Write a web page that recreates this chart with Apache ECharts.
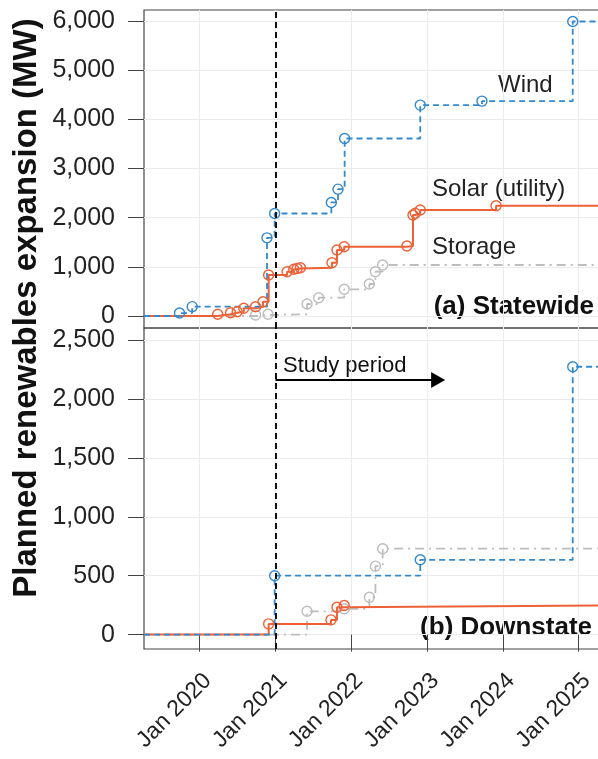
<!DOCTYPE html>
<html>
<head>
<meta charset="utf-8">
<script src="https://cdn.jsdelivr.net/npm/echarts@6/dist/echarts.min.js"></script>
<style>
html, body { margin: 0; padding: 0; background: #fff; }
#chart { width: 598px; height: 759px; }
</style>
</head>
<body>
<div id="chart"></div>
<script>
// time range shown in both panels
var xStart = '2019-04-08';
var xEnd = '2025-04-23';
var studyStart = '2021-01-01';
var studyArrowEnd = '2023-02-23';
var studyArrowLevel = 2160;

var yearTicks = [2020, 2021, 2022, 2023, 2024, 2025];
var stateTicks = [0, 1000, 2000, 3000, 4000, 5000, 6000];
var downTicks = [0, 500, 1000, 1500, 2000, 2500];

// (a) Statewide, cumulative MW
var stateWind = [
    ['2019-09-26', 60], ['2019-11-26', 190], ['2020-11-21', 1590], ['2020-12-28', 2085],
    ['2021-09-27', 2310], ['2021-10-29', 2580], ['2021-11-30', 3610], ['2022-11-29', 4290],
    ['2023-09-22', 4370], ['2024-12-03', 5990]
];
var stateSolar = [
    ['2020-03-28', 35], ['2020-05-29', 67], ['2020-06-30', 87], ['2020-08-01', 157],
    ['2020-09-27', 189], ['2020-11-02', 291], ['2020-11-29', 834], ['2021-02-26', 901],
    ['2021-03-30', 950], ['2021-04-15', 966], ['2021-05-01', 982], ['2021-09-30', 1084],
    ['2021-10-24', 1342], ['2021-11-28', 1409], ['2022-09-26', 1424], ['2022-10-25', 2054],
    ['2022-11-05', 2089], ['2022-11-29', 2156], ['2023-11-29', 2243]
];
var stateStorage = [
    ['2020-09-27', 20], ['2020-11-26', 35], ['2021-06-02', 244], ['2021-07-28', 372],
    ['2021-11-28', 543], ['2022-03-29', 651], ['2022-04-27', 901], ['2022-06-01', 1037]
];

// (b) Downstate, cumulative MW
var downWind = [['2020-12-28', 500], ['2022-11-29', 635], ['2024-12-03', 2273]];
var downSolar = [['2020-11-29', 91], ['2021-09-25', 125], ['2021-10-24', 232], ['2021-11-28', 247]];
var downStorage = [
    ['2021-06-02', 198], ['2021-11-28', 219], ['2022-03-29', 317], ['2022-04-27', 581], ['2022-06-01', 729]
];

var BLUE = '#3489cc';
var ORANGE = '#ee6136';
var GREY = '#bdbdbd';
var FONT = 'Liberation Sans, Arial, Helvetica, sans-serif';

// date string -> decimal year
function yr(d) {
    var p = d.split('-');
    var y = +p[0];
    var t0 = Date.UTC(y, 0, 1), t1 = Date.UTC(y + 1, 0, 1);
    return y + (Date.UTC(y, +p[1] - 1, +p[2]) - t0) / (t1 - t0);
}

// pad with a start at 0 and an end at the last level so the steps run edge to edge
function stepData(points) {
    var out = [{ value: [yr(xStart), 0], symbol: 'none' }];
    points.forEach(function (p) { out.push({ value: [yr(p[0]), p[1]] }); });
    out.push({ value: [yr(xEnd), points[points.length - 1][1]], symbol: 'none' });
    return out;
}

function stepSeries(name, points, g, color, type, width) {
    return {
        name: name,
        type: 'line',
        step: 'end',
        xAxisIndex: g,
        yAxisIndex: g,
        data: stepData(points),
        symbol: 'circle',
        symbolSize: 10,
        itemStyle: { color: 'rgba(255,255,255,0)', borderColor: color, borderWidth: 1.4 },
        lineStyle: { color: color, width: width, type: type },
        emphasis: { disabled: true },
        animation: false
    };
}

function xAxis(g, showLabels) {
    return {
        type: 'value',
        gridIndex: g,
        min: yr(xStart),
        max: yr(xEnd),
        splitNumber: 6,
        axisLine: { show: false },
        axisTick: { show: showLabels, length: 17, customValues: yearTicks, lineStyle: { color: '#444' } },
        axisLabel: {
            show: showLabels,
            customValues: yearTicks,
            rotate: 45,
            margin: 20,
            verticalAlign: 'top',
            fontSize: 23,
            fontFamily: FONT,
            color: '#222',
            formatter: function (v) { return 'Jan ' + Math.round(v); }
        },
        splitLine: { show: true, lineStyle: { color: '#ebebeb', width: 1 } }
    };
}

function yAxis(g, min, max, ticks) {
    return {
        type: 'value',
        gridIndex: g,
        min: min,
        max: max,
        splitNumber: 6,
        axisLine: { show: false },
        axisTick: { show: true, length: 16, customValues: ticks, lineStyle: { color: '#444' } },
        axisLabel: {
            customValues: ticks,
            margin: 29,
            fontSize: 25,
            fontFamily: FONT,
            color: '#222',
            formatter: function (v) { return v.toLocaleString('en-US'); }
        },
        splitLine: { show: true, lineStyle: { color: '#ebebeb', width: 1 } }
    };
}

var vline = { xAxis: yr(studyStart) };
var mlCommon = {
    silent: true,
    symbol: ['none', 'none'],
    label: { show: false },
    lineStyle: { color: '#111', width: 2, type: [6, 4] },
    animation: false
};

var sWind = stepSeries('Wind', stateWind, 0, BLUE, [6, 4], 1.8);
sWind.markLine = Object.assign({ data: [vline] }, mlCommon);
var dWind = stepSeries('Wind', downWind, 1, BLUE, [6, 4], 1.8);
dWind.markLine = Object.assign({
    data: [
        vline,
        [
            { coord: [yr(studyStart), studyArrowLevel], symbol: 'none' },
            { coord: [yr(studyArrowEnd), studyArrowLevel], symbol: 'triangle', symbolSize: [16, 14],
              lineStyle: { type: 'solid', width: 1.8, color: '#000' } }
        ]
    ]
}, mlCommon);

var chart = echarts.init(document.getElementById('chart'));
chart.setOption({
    animation: false,
    textStyle: { fontFamily: FONT },
    grid: [
        { left: 144, top: 10, right: -4, height: 318, outerBoundsMode: 'none', containLabel: false,
          show: true, borderColor: '#444', borderWidth: 1.2 },
        { left: 144, top: 328, right: -4, height: 321, outerBoundsMode: 'none', containLabel: false,
          show: true, borderColor: '#444', borderWidth: 1.2 }
    ],
    xAxis: [xAxis(0, false), xAxis(1, true)],
    yAxis: [yAxis(0, -244, 6224, stateTicks), yAxis(1, -122, 2602, downTicks)],
    series: [
        stepSeries('Storage', stateStorage, 0, GREY, [9, 5, 2, 5], 1.8),
        stepSeries('Solar (utility)', stateSolar, 0, ORANGE, 'solid', 2),
        sWind,
        stepSeries('Storage', downStorage, 1, GREY, [9, 5, 2, 5], 1.8),
        stepSeries('Solar (utility)', downSolar, 1, ORANGE, 'solid', 2),
        dWind
    ],
    graphic: [
        { type: 'text', x: 27, y: 308, rotation: Math.PI / 2,
          style: { text: 'Planned renewables expansion (MW)', font: 'bold 33px ' + FONT, fill: '#111', align: 'center', verticalAlign: 'middle' } },
        { type: 'text', x: 498, y: 85, style: { text: 'Wind', font: '24px ' + FONT, fill: '#222', verticalAlign: 'middle' } },
        { type: 'text', x: 432, y: 189, style: { text: 'Solar (utility)', font: '24px ' + FONT, fill: '#222', verticalAlign: 'middle' } },
        { type: 'text', x: 432, y: 247, style: { text: 'Storage', font: '24px ' + FONT, fill: '#222', verticalAlign: 'middle' } },
        { type: 'text', x: 594, y: 307, style: { text: '(a) Statewide', font: 'bold 26px ' + FONT, fill: '#111', align: 'right', verticalAlign: 'middle' } },
        { type: 'text', x: 592, y: 628, style: { text: '(b) Downstate', font: 'bold 26px ' + FONT, fill: '#111', align: 'right', verticalAlign: 'middle' } },
        { type: 'text', x: 283, y: 366, style: { text: 'Study period', font: '22px ' + FONT, fill: '#111', verticalAlign: 'middle' } }
    ]
});
</script>
</body>
</html>
